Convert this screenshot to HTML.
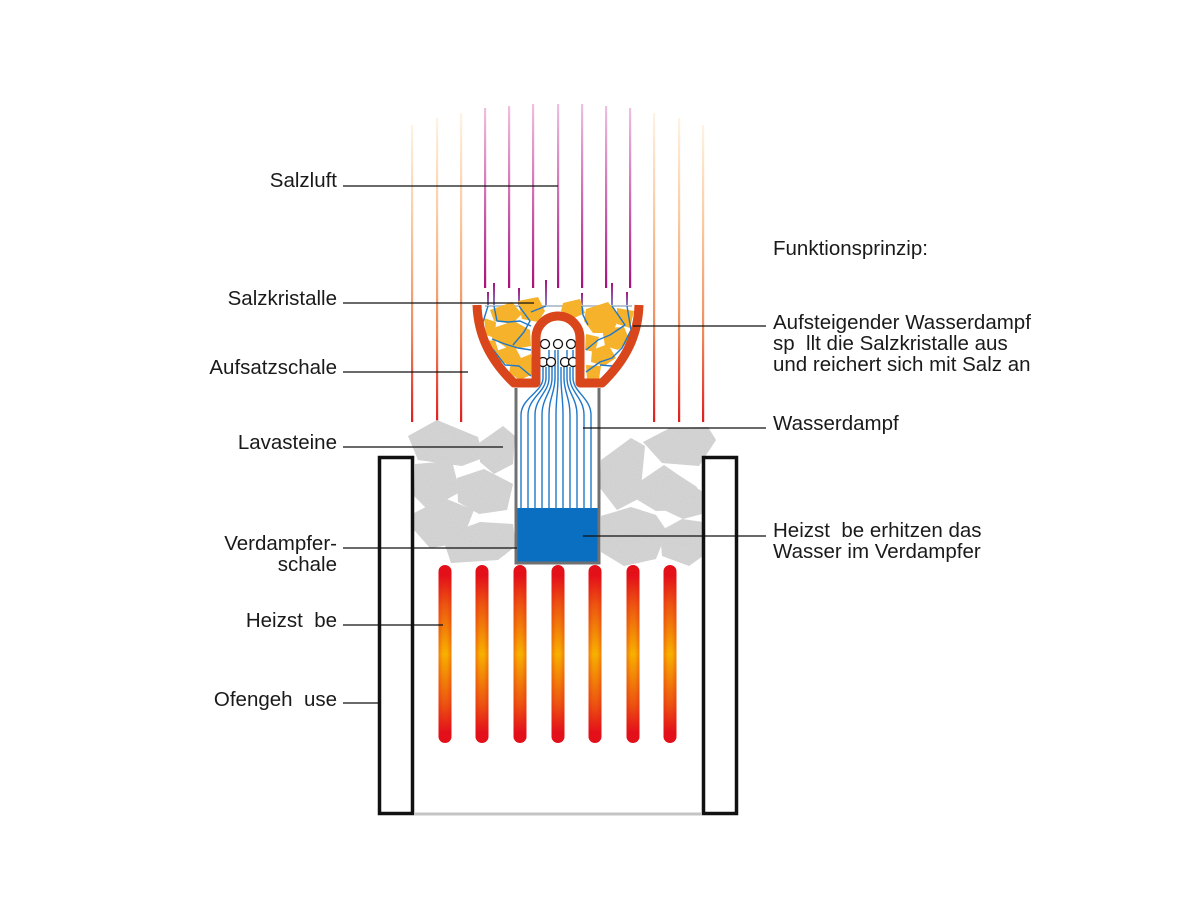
<!DOCTYPE html>
<html><head><meta charset="utf-8"><style>
html,body{margin:0;padding:0;background:#fff;}
svg{display:block;}
text{font-family:"Liberation Sans",Arial,sans-serif;font-size:20.5px;fill:#1a1a1a;white-space:pre;}
</style></head><body>
<svg width="1200" height="900" viewBox="0 0 1200 900" xmlns="http://www.w3.org/2000/svg">
<defs>
<linearGradient id="heat" x1="0" y1="0" x2="0" y2="1">
<stop offset="0" stop-color="#fff3e4"/>
<stop offset="0.35" stop-color="#f9c79c"/>
<stop offset="0.7" stop-color="#f08a5a"/>
<stop offset="1" stop-color="#e01e1e"/>
</linearGradient>
<linearGradient id="mag" x1="0" y1="0" x2="0" y2="1">
<stop offset="0" stop-color="#efc0e0"/>
<stop offset="0.5" stop-color="#d06cb0"/>
<stop offset="1" stop-color="#a8127a"/>
</linearGradient>
<linearGradient id="vio" x1="0" y1="0" x2="0" y2="1">
<stop offset="0" stop-color="#a8127a"/>
<stop offset="1" stop-color="#7f86c8"/>
</linearGradient>
<linearGradient id="rod" x1="0" y1="0" x2="0" y2="1">
<stop offset="0" stop-color="#e3101a"/>
<stop offset="0.06" stop-color="#e3101a"/>
<stop offset="0.22" stop-color="#ec5410"/>
<stop offset="0.5" stop-color="#f7b000"/>
<stop offset="0.78" stop-color="#ec5410"/>
<stop offset="0.94" stop-color="#e3101a"/>
<stop offset="1" stop-color="#e3101a"/>
</linearGradient>
<linearGradient id="rodh" x1="0" y1="0" x2="1" y2="0">
<stop offset="0" stop-color="#e3101a" stop-opacity="0.3"/>
<stop offset="0.35" stop-color="#e3101a" stop-opacity="0"/>
<stop offset="0.65" stop-color="#e3101a" stop-opacity="0"/>
<stop offset="1" stop-color="#e3101a" stop-opacity="0.3"/>
</linearGradient>
<filter id="grain" x="0" y="0" width="100%" height="100%">
<feTurbulence type="fractalNoise" baseFrequency="0.9" numOctaves="2" seed="3" result="n"/>
<feColorMatrix in="n" type="matrix" values="0 0 0 0 0.6  0 0 0 0 0.6  0 0 0 0 0.6  0 0 0 1.6 -0.55" result="g"/>
<feComposite in="g" in2="SourceGraphic" operator="in" result="gc"/>
<feMerge><feMergeNode in="SourceGraphic"/><feMergeNode in="gc"/></feMerge>
</filter>
</defs>

<!-- heat lines -->
<g fill="url(#heat)">
<rect x="411" y="125" width="2.2" height="297"/>
<rect x="436" y="118" width="2.2" height="304"/>
<rect x="460" y="113" width="2.2" height="309"/>
<rect x="653" y="113" width="2.2" height="309"/>
<rect x="678" y="118" width="2.2" height="304"/>
<rect x="702" y="125" width="2.2" height="297"/>
</g>

<!-- magenta salt air lines -->
<g fill="url(#mag)">
<rect x="484" y="108" width="2.2" height="180"/>
<rect x="508" y="106" width="2.2" height="182"/>
<rect x="532" y="104" width="2.2" height="184"/>
<rect x="557" y="104" width="2.2" height="184"/>
<rect x="581" y="104" width="2.2" height="184"/>
<rect x="605" y="106" width="2.2" height="182"/>
<rect x="629" y="108" width="2.2" height="180"/>
</g>
<!-- short violet lines -->
<g fill="url(#vio)">
<rect x="487" y="292" width="2" height="15"/>
<rect x="493" y="283" width="2" height="24"/>
<rect x="518" y="288" width="2" height="19"/>
<rect x="545" y="280" width="2" height="27"/>
<rect x="581" y="293" width="2" height="14"/>
<rect x="611" y="283" width="2" height="24"/>
<rect x="626" y="292" width="2" height="15"/>
</g>

<!-- lava stones -->
<g fill="#d4d4d4" filter="url(#grain)">
<polygon points="408,436 437,420 478,437 483,458 462,466 418,460"/>
<polygon points="479,443 503,426 515,436 513,464 494,474 480,462"/>
<polygon points="415,464 452,461 460,492 428,510 414,496"/>
<polygon points="457,478 484,469 513,484 507,510 479,514 458,502"/>
<polygon points="414,513 444,498 474,510 461,543 430,548 414,530"/>
<polygon points="442,536 480,522 513,524 516,546 498,560 451,563"/>
<polygon points="601,460 631,438 645,446 640,498 617,510 600,488"/>
<polygon points="643,442 670,428 708,427 716,440 699,466 662,463"/>
<polygon points="636,484 664,465 680,476 697,487 690,510 656,511 636,499"/>
<polygon points="601,516 631,507 656,515 667,531 656,559 624,566 601,552"/>
<polygon points="660,531 682,519 703,522 703,556 689,566 662,556"/>
<polygon points="663,488 686,481 703,492 702,514 683,519 664,510"/>
</g>

<!-- housing walls -->
<rect x="379.5" y="457.5" width="33" height="356" fill="#fff" stroke="#111" stroke-width="3.5"/>
<rect x="703.5" y="457.5" width="33" height="356" fill="#fff" stroke="#111" stroke-width="3.5"/>
<line x1="414" y1="814" x2="702" y2="814" stroke="#c4c4c4" stroke-width="3"/>

<!-- heating rods -->
<g>
<rect x="438.5" y="565" width="13" height="178" rx="6.5" fill="url(#rod)"/>
<rect x="475.5" y="565" width="13" height="178" rx="6.5" fill="url(#rod)"/>
<rect x="513.5" y="565" width="13" height="178" rx="6.5" fill="url(#rod)"/>
<rect x="551.5" y="565" width="13" height="178" rx="6.5" fill="url(#rod)"/>
<rect x="588.5" y="565" width="13" height="178" rx="6.5" fill="url(#rod)"/>
<rect x="626.5" y="565" width="13" height="178" rx="6.5" fill="url(#rod)"/>
<rect x="663.5" y="565" width="13" height="178" rx="6.5" fill="url(#rod)"/>
<rect x="438.5" y="565" width="13" height="178" rx="6.5" fill="url(#rodh)"/>
<rect x="475.5" y="565" width="13" height="178" rx="6.5" fill="url(#rodh)"/>
<rect x="513.5" y="565" width="13" height="178" rx="6.5" fill="url(#rodh)"/>
<rect x="551.5" y="565" width="13" height="178" rx="6.5" fill="url(#rodh)"/>
<rect x="588.5" y="565" width="13" height="178" rx="6.5" fill="url(#rodh)"/>
<rect x="626.5" y="565" width="13" height="178" rx="6.5" fill="url(#rodh)"/>
<rect x="663.5" y="565" width="13" height="178" rx="6.5" fill="url(#rodh)"/>
</g>

<!-- evaporator tube -->
<rect x="516" y="508" width="83" height="55" fill="#0a6fc0"/>
<g stroke="#1f78c8" stroke-width="1.4" fill="none">
<path d="M521 509 L521 415 C521 398 543 392 543 378 L543 367"/>
<path d="M528 509 L528 415 C528 398 546 392 546 378 L546 367"/>
<path d="M535 509 L535 415 C535 398 549 392 549 378 L549 350"/>
<path d="M542 509 L542 415 C542 398 552 392 552 378 L552 367"/>
<path d="M549 509 L549 415 C549 398 555 392 555 378 L555 350"/>
<path d="M556 509 L556 415 C556 398 558 392 558 378 L558 350"/>
<path d="M563 509 L563 415 C563 398 561 392 561 378 L561 367"/>
<path d="M570 509 L570 415 C570 398 564 392 564 378 L564 367"/>
<path d="M577 509 L577 415 C577 398 567 392 567 378 L567 350"/>
<path d="M584 509 L584 415 C584 398 570 392 570 378 L570 367"/>
<path d="M591 509 L591 415 C591 398 573 392 573 378 L573 350"/>
</g>
<path d="M516 388 L516 563 L599 563 L599 388" fill="none" stroke="#707070" stroke-width="3"/>

<!-- bubbles in dome -->
<g fill="#fff" stroke="#111" stroke-width="1.3">
<circle cx="545" cy="344" r="4.5"/>
<circle cx="558" cy="344" r="4.5"/>
<circle cx="571" cy="344" r="4.5"/>
<circle cx="543" cy="362" r="4.5"/>
<circle cx="551" cy="362" r="4.5"/>
<circle cx="565" cy="362" r="4.5"/>
<circle cx="573" cy="362" r="4.5"/>
</g>

<!-- rim line -->
<line x1="485" y1="306" x2="632" y2="306" stroke="#b9c6d2" stroke-width="2"/>

<!-- salt crystals -->
<g fill="#f5b22a">
<polygon points="490,310 512,302 522,314 512,324 494,321"/>
<polygon points="518,301 538,297 545,311 538,322 522,319"/>
<polygon points="484,318 496,322 495,338 486,335"/>
<polygon points="496,327 514,321 530,330 531,346 510,350 492,338"/>
<polygon points="496,351 514,345 521,358 509,365 497,360"/>
<polygon points="511,362 531,354 533,374 520,380 509,373"/>
<polygon points="487,341 495,340 500,356 492,360"/>
<polygon points="563,303 580,299 585,313 572,319 561,311"/>
<polygon points="586,309 608,302 620,317 612,333 593,333 584,321"/>
<polygon points="617,308 634,311 630,328 617,324"/>
<polygon points="602,328 624,327 630,341 618,350 605,346"/>
<polygon points="586,334 599,337 595,352 585,350"/>
<polygon points="592,350 608,344 616,358 604,366 591,362"/>
<polygon points="586,365 601,366 599,379 587,380"/>
</g>
<!-- blue steam through crystals -->
<g stroke="#1f78c8" stroke-width="1.4" fill="none" stroke-linejoin="round">
<path d="M531 376 L519 366 L505 365 L495 352 L485 340 L483 322 L488 306"/>
<path d="M531 350 L518 348 L505 344 L492 339"/>
<path d="M531 326 L520 321 L508 322 L497 321 L494 306"/>
<path d="M513 345 L524 332 L530 321 L519 306"/>
<path d="M531 312 L546 306"/>
<path d="M586 372 L600 362 L612 358 L622 348 L631 330 L627 306"/>
<path d="M586 350 L598 340 L610 335 L625 325 L612 306"/>
<path d="M588 325 L583 315 L582 306"/>
<path d="M600 365 L612 366 L625 358"/>
</g>

<!-- bowl -->
<path d="M477 305 C478 335 490 360 514 383 L536 383 L536 338 A22 22 0 0 1 580 338 L580 383 L602 383 C626 360 638 335 639 305" fill="none" stroke="#d9461b" stroke-width="9" stroke-linejoin="round"/>

<!-- leader lines -->
<g stroke="#111" stroke-width="1.3">
<line x1="343" y1="186" x2="558" y2="186"/>
<line x1="343" y1="303" x2="534" y2="303"/>
<line x1="343" y1="372" x2="468" y2="372"/>
<line x1="343" y1="447" x2="503" y2="447"/>
<line x1="343" y1="548" x2="517" y2="548"/>
<line x1="343" y1="625" x2="443" y2="625"/>
<line x1="343" y1="703" x2="378" y2="703"/>
<line x1="633" y1="326" x2="766" y2="326"/>
<line x1="583" y1="428" x2="766" y2="428"/>
<line x1="583" y1="536" x2="766" y2="536"/>
</g>

<!-- left labels -->
<g text-anchor="end">
<text x="337" y="187">Salzluft</text>
<text x="337" y="305">Salzkristalle</text>
<text x="337" y="374">Aufsatzschale</text>
<text x="337" y="449">Lavasteine</text>
<text x="337" y="550">Verdampfer-</text>
<text x="337" y="571">schale</text>
<text x="337" y="627">Heizst  be</text>
<text x="337" y="706">Ofengeh  use</text>
</g>
<!-- right labels -->
<text x="773" y="255">Funktionsprinzip:</text>
<text x="773" y="329">Aufsteigender Wasserdampf</text>
<text x="773" y="350">sp  llt die Salzkristalle aus</text>
<text x="773" y="371">und reichert sich mit Salz an</text>
<text x="773" y="430">Wasserdampf</text>
<text x="773" y="537">Heizst  be erhitzen das</text>
<text x="773" y="558">Wasser im Verdampfer</text>
</svg>
</body></html>
